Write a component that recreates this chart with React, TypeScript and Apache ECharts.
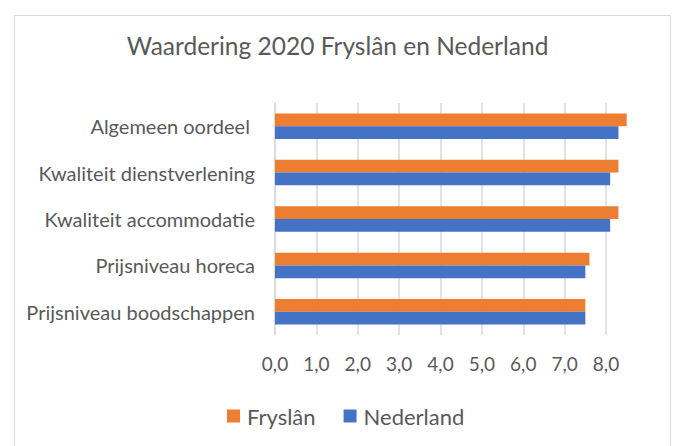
import React, { useEffect, useRef } from "react";
import * as echarts from "echarts";

const categories = [
  "Algemeen oordeel ",
  "Kwaliteit dienstverlening",
  "Kwaliteit accommodatie",
  "Prijsniveau horeca",
  "Prijsniveau boodschappen",
];
const fryslan = [8.5, 8.3, 8.3, 7.6, 7.5];
const nederland = [8.3, 8.1, 8.1, 7.5, 7.5];
const seriesNames = ["Fryslân", "Nederland"];
const titleText = "Waardering 2020 Fryslân en Nederland";

const FONT = "Lato, sans-serif";
const GRAY = "#595959";

export default function App() {
  const ref = useRef<HTMLDivElement>(null);
  useEffect(() => {
    if (!ref.current) return;
    const chart = echarts.init(ref.current, null, { renderer: "svg" });
    const gridColors = [
      "#d9d9d9", "#d9d9d9", "#d9d9d9", "#d9d9d9", "#d9d9d9",
      "#d9d9d9", "#d9d9d9", "#d9d9d9", "#d9d9d9", "transparent",
    ];
    chart.setOption({
      animation: false,
      backgroundColor: "#ffffff",
      textStyle: { fontFamily: FONT },
      title: {
        text: titleText,
        left: "center",
        top: 28,
        textStyle: { fontFamily: FONT, fontSize: 24.5, fontWeight: "normal", color: GRAY },
      },
      graphic: [
        {
          type: "rect",
          shape: { x: 14.5, y: 15.5, width: 656, height: 440 },
          style: { fill: "none", stroke: "#d9d9d9", lineWidth: 1 },
          silent: true,
        },
      ],
      legend: {
        bottom: 14,
        left: 222,
        icon: "rect",
        itemWidth: 13,
        itemHeight: 13,
        itemGap: 28,
        textStyle: { fontFamily: FONT, fontSize: 22, color: GRAY, padding: [0, 0, 0, 2] },
        data: seriesNames,
      },
      grid: { left: 275, right: 27.6, top: 103, bottom: 111, containLabel: false },
      xAxis: {
        type: "value",
        min: 0,
        max: 9,
        interval: 1,
        axisLine: { show: false },
        axisTick: { show: false },
        axisLabel: {
          margin: 19,
          fontFamily: FONT,
          fontSize: 19,
          color: GRAY,
          formatter: (v: number) => (v >= 9 ? "" : v.toFixed(1).replace(".", ",")),
        },
        splitLine: { show: true, lineStyle: { color: gridColors, width: 1.5 } },
      },
      yAxis: {
        type: "category",
        inverse: true,
        data: categories,
        axisLine: { show: true, lineStyle: { color: "#d9d9d9", width: 1.5 } },
        axisTick: { show: false },
        axisLabel: { margin: 20, fontFamily: FONT, fontSize: 20, color: GRAY },
      },
      series: [
        {
          name: seriesNames[0],
          type: "bar",
          data: fryslan,
          itemStyle: { color: "#ed7d31" },
          barGap: "0%",
          barCategoryGap: "45%",
        },
        {
          name: seriesNames[1],
          type: "bar",
          data: nederland,
          itemStyle: { color: "#4472c4" },
          barGap: "0%",
          barCategoryGap: "45%",
        },
      ],
    });
    return () => chart.dispose();
  }, []);
  return (
    <div
      ref={ref}
      style={{ position: "fixed", left: 0, top: 0, width: 675, height: 446 }}
    />
  );
}
